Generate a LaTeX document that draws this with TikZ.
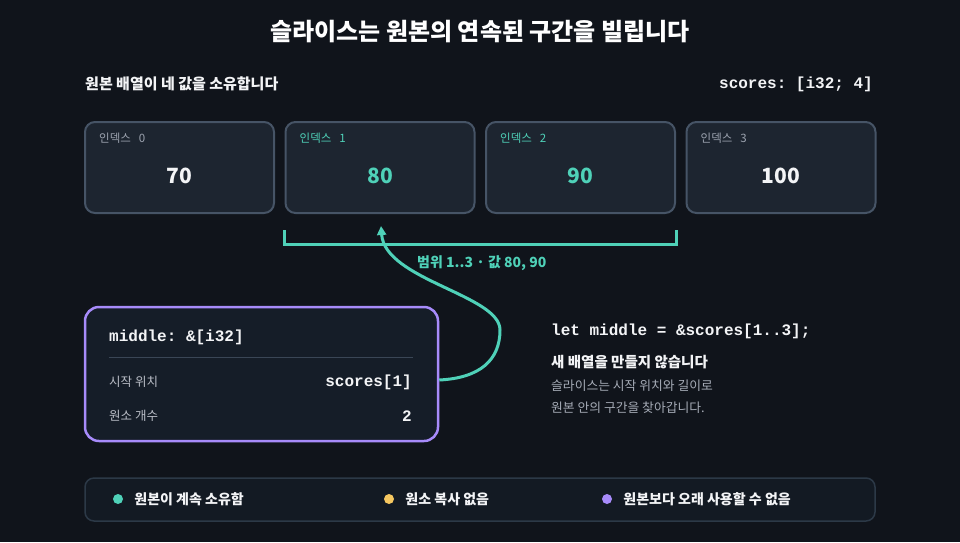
\documentclass[tikz,border=0pt]{standalone}
\usepackage{fontspec}
\setmainfont{Noto Sans CJK KR}
\setmonofont{Liberation Mono}
\usetikzlibrary{arrows.meta, positioning, calc}

\definecolor{bgcol}{HTML}{10141B}
\definecolor{cellfill}{HTML}{1D2530}
\definecolor{cellline}{HTML}{465466}
\definecolor{tealc}{HTML}{4FD1B8}
\definecolor{violetc}{HTML}{A78BFA}
\definecolor{yellowc}{HTML}{F5C760}
\definecolor{grayc}{HTML}{9CA3AF}
\definecolor{inkc}{HTML}{F3F4F6}
\definecolor{slicefill}{HTML}{151D28}
\definecolor{legfill}{HTML}{131A23}
\definecolor{legline}{HTML}{2C3947}
\definecolor{sepline}{HTML}{3A4656}

\tikzset{
  cell/.style={draw=cellline, fill=cellfill, line width=2pt, rounded corners=10pt,
    minimum width=189pt, minimum height=91pt},
  idx/.style={font=\fontsize{11.5}{13}\selectfont, text=grayc, inner sep=0pt, anchor=west},
  val/.style={font=\fontsize{21}{25}\selectfont\bfseries, text=inkc, inner sep=0pt},
  code/.style={font=\fontsize{16}{19}\selectfont\ttfamily\bfseries, text=inkc, inner sep=0pt},
  rowlbl/.style={font=\fontsize{12.5}{15}\selectfont, text=grayc!70!white, inner sep=0pt, anchor=west},
  note/.style={font=\fontsize{12.8}{15}\selectfont, text=grayc!90!white, inner sep=0pt, anchor=west},
  legtxt/.style={font=\fontsize{14}{16}\selectfont\bfseries, text=inkc, inner sep=0pt},
  legdot/.style={circle, inner sep=0pt, minimum size=10pt},
  flow/.style={tealc, line width=3pt, -{Triangle[length=9pt, width=9pt]}},
}

\begin{document}
\begin{tikzpicture}[x=1pt, y=-1pt]
  \fill[bgcol] (0,0) rectangle (960,542);
  \useasboundingbox (0,0) rectangle (960,542);

  \node[font=\fontsize{24}{28}\selectfont\bfseries, text=white] (title) at (480,32) {슬라이스는 원본의 연속된 구간을 빌립니다};
  \node[font=\fontsize{15}{18}\selectfont\bfseries, text=inkc, inner sep=0pt, anchor=west] (owner) at (85,84) {원본 배열이 네 값을 소유합니다};
  \node[code, anchor=east] (arrtype) at (873,84) {scores: [i32; 4]};

  % the original array
  \node[cell] (cell0) at (179.5,167.5) {};
  \node[cell] (cell1) at (380,167.5) {};
  \node[cell] (cell2) at (580.5,167.5) {};
  \node[cell] (cell3) at (781,167.5) {};

  \node[idx] (idx0) at ($(cell0.north west)+(15,17)$) {인덱스\hspace{8pt}0};
  \node[idx, text=tealc] (idx1) at ($(cell1.north west)+(15,17)$) {인덱스\hspace{8pt}1};
  \node[idx, text=tealc] (idx2) at ($(cell2.north west)+(15,17)$) {인덱스\hspace{8pt}2};
  \node[idx] (idx3) at ($(cell3.north west)+(15,17)$) {인덱스\hspace{8pt}3};

  \node[val] (val0) at ($(cell0.center)+(0,8.5)$) {70};
  \node[val, text=tealc] (val1) at ($(cell1.center)+(0,8.5)$) {80};
  \node[val, text=tealc] (val2) at ($(cell2.center)+(0,8.5)$) {90};
  \node[val] (val3) at ($(cell3.center)+(0,8.5)$) {100};

  \draw[tealc, line width=3pt] ($(cell1.south west)+(0,16)$) |- ($(cell2.south east)+(0,30)$) -- ++(0,-14);

  % the slice
  \node[draw=violetc, fill=slicefill, line width=2.5pt, rounded corners=14pt,
    minimum width=353pt, minimum height=134pt] (slice) at (261.5,374) {};
  \node[code, anchor=west] (slicetype) at (109,337) {middle: \&[i32]};
  \draw[sepline, line width=1pt] (109,357) -- (413,357);
  \node[rowlbl] (startlbl) at (109,382) {시작 위치};
  \node[code, anchor=east] (startval) at (412,382) {scores[1]};
  \node[rowlbl] (countlbl) at (109,416) {원소 개수};
  \node[code, anchor=east] (countval) at (412,416) {2};

  \coordinate (tip) at ($(cell1.south)+(1,12)$);
  \draw[flow] ($(slice.east)+(0,6)$) .. controls (480,378) and (500,360) .. (500,330)
    .. controls (500,295) and (385,280) .. (tip);
  \node[font=\fontsize{14}{17}\selectfont\bfseries, text=tealc, inner sep=0pt, anchor=west] (rangelbl) at (417,263) {범위 1..3 · 값 80, 90};

  \node[code, anchor=west] (letline) at (551,331) {let middle = \&scores[1..3];};
  \node[font=\fontsize{14.5}{17}\selectfont\bfseries, text=inkc, inner sep=0pt, anchor=west] (nocopy) at (551,362) {새 배열을 만들지 않습니다};
  \node[note] (note1) at (551,386) {슬라이스는 시작 위치와 길이로};
  \node[note] (note2) at (551,408) {원본 안의 구간을 찾아갑니다.};

  % legend
  \node[draw=legline, fill=legfill, line width=1.5pt, rounded corners=9pt,
    minimum width=790pt, minimum height=43pt] (legend) at (480,499.5) {};
  \node[legdot, fill=tealc] (dot1) at (118,499) {};
  \node[legtxt, right=11pt of dot1] (leg1) {원본이 계속 소유함};
  \node[legdot, fill=yellowc] (dot2) at (389,499) {};
  \node[legtxt, right=11pt of dot2] (leg2) {원소 복사 없음};
  \node[legdot, fill=violetc] (dot3) at (607,499) {};
  \node[legtxt, right=11pt of dot3] (leg3) {원본보다 오래 사용할 수 없음};
\end{tikzpicture}
\end{document}
